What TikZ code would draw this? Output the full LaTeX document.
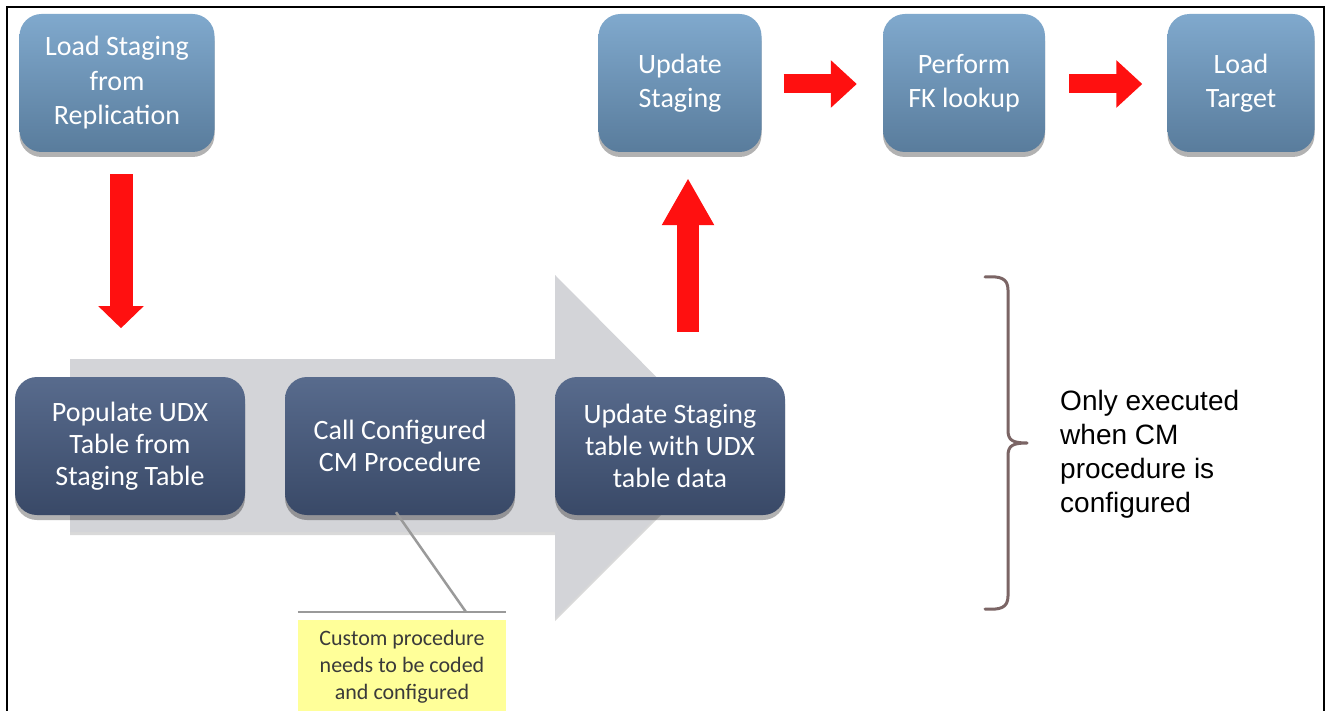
\documentclass[tikz,border=0pt]{standalone}
\usepackage{fontspec}
\setmainfont{Carlito}
\newfontfamily\arialf{Liberation Sans}
\usetikzlibrary{shadows,arrows.meta}
\definecolor{topT}{HTML}{80A9CD}
\definecolor{topB}{HTML}{597C9C}
\definecolor{botT}{HTML}{586B8D}
\definecolor{botB}{HTML}{394967}
\definecolor{bigarrow}{HTML}{D3D4D8}
\definecolor{redA}{HTML}{FF1010}
\definecolor{callgray}{HTML}{9A9A9A}
\definecolor{noteyellow}{HTML}{FFFF99}
\definecolor{notetext}{HTML}{3A3A3A}
\definecolor{bracecol}{HTML}{7B6565}
\tikzset{
  boxbase/.style={rounded corners=22pt, align=center, text=white, inner sep=0pt,
    drop shadow={shadow xshift=0pt, shadow yshift=-5pt, opacity=0.3, fill=black}},
  topbox/.style={boxbase, top color=topT, bottom color=topB,
    font=\fontsize{28}{34.5}\selectfont},
  botbox/.style={boxbase, top color=botT, bottom color=botB,
    minimum width=230pt, minimum height=138pt,
    font=\fontsize{28}{32}\selectfont},
  redarrv/.style={draw=redA, line width=23pt, -{Triangle[width=44pt,length=22pt]}},
  redarru/.style={draw=redA, line width=22pt, -{Triangle[width=49pt,length=47pt]}},
  redarrh/.style={draw=redA, line width=19pt, -{Triangle[width=46pt,length=26pt]}},
  callline/.style={draw=callgray, line width=2.5pt},
  notebox/.style={fill=noteyellow, text=notetext, align=center, inner sep=0pt,
    minimum width=208pt, minimum height=94pt, font=\fontsize{22}{27}\selectfont},
  bracepath/.style={draw=bracecol, line width=3pt, line cap=round, line join=round},
  sidetext/.style={align=left, inner sep=0pt, font=\arialf\fontsize{28}{34}\selectfont}
}
\begin{document}
\begin{tikzpicture}[x=1pt,y=-1pt]
\useasboundingbox (0,0) rectangle (1329,711);
\fill[white] (0,0) rectangle (1329,711);
\draw[line width=1.5pt] (7,711) -- (7,7) -- (1324,7) -- (1324,711);

% big gray arrow
\fill[bigarrow, drop shadow={shadow xshift=0pt, shadow yshift=-3pt, opacity=0.15, fill=black}]
  (70,359) -- (555,359) -- (555,275) -- (726,447) -- (555,618) -- (555,532) -- (70,532) -- cycle;

% top row
\node[topbox, minimum width=195pt, minimum height=138pt] (load) at (117,83) {Load Staging\\from\\Replication};
\node[topbox, minimum width=163pt, minimum height=138pt] (ups) at (680,83) {Update\\Staging};
\node[topbox, minimum width=162pt, minimum height=138pt] (fk) at (964,83) {Perform\\FK lookup};
\node[topbox, minimum width=147pt, minimum height=138pt] (lt) at (1241,83) {Load\\Target};

% bottom row
\node[botbox] (pop) at (130,446) {Populate UDX\\Table from\\Staging Table};
\node[botbox] (cm) at (400,446) {Call Configured\\CM Procedure};
\node[botbox] (ust) at (670,446) {Update Staging\\table with UDX\\table data};

% red arrows
\draw[redarrv] ([xshift=4pt,yshift=-22pt]load.south) -- ++(0,154);
\draw[redarru] ([xshift=18pt,yshift=45pt]ust.north) -- ([xshift=8pt,yshift=-26pt]ups.south);
\draw[redarrh] ([xshift=22pt,yshift=-1pt]ups.east) -- ([xshift=-26pt,yshift=-1pt]fk.west);
\draw[redarrh] ([xshift=24pt,yshift=-1pt]fk.east) -- ([xshift=-25pt,yshift=-1pt]lt.west);

% callout
\node[notebox, anchor=north] (note) at (402,620) {Custom procedure\\needs to be coded\\and configured};
\coordinate (cmfoot) at ([xshift=-4pt,yshift=3pt]cm.south);
\coordinate (bend) at ([xshift=64pt,yshift=8pt]note.north);
\draw[callline] (cmfoot) -- (bend);
\draw[callline] ([yshift=8pt]note.north west) -- ([yshift=8pt]note.north east);

% brace
\coordinate (btop) at (985,277);
\coordinate (bbot) at (985,609);
\coordinate (btip) at (1027,443);
\draw[bracepath] (btop) .. controls (1000,276) and (1008,278) .. (1008,290)
  -- (1008,430) .. controls (1008,440) and (1012,443) .. (btip)
  .. controls (1012,443) and (1008,446) .. (1008,456)
  -- (1008,596) .. controls (1008,608) and (1000,610) .. (bbot);
\node[sidetext, anchor=north west] (only) at (1060,390) {Only executed\\when CM\\procedure is\\configured};
\end{tikzpicture}
\end{document}
